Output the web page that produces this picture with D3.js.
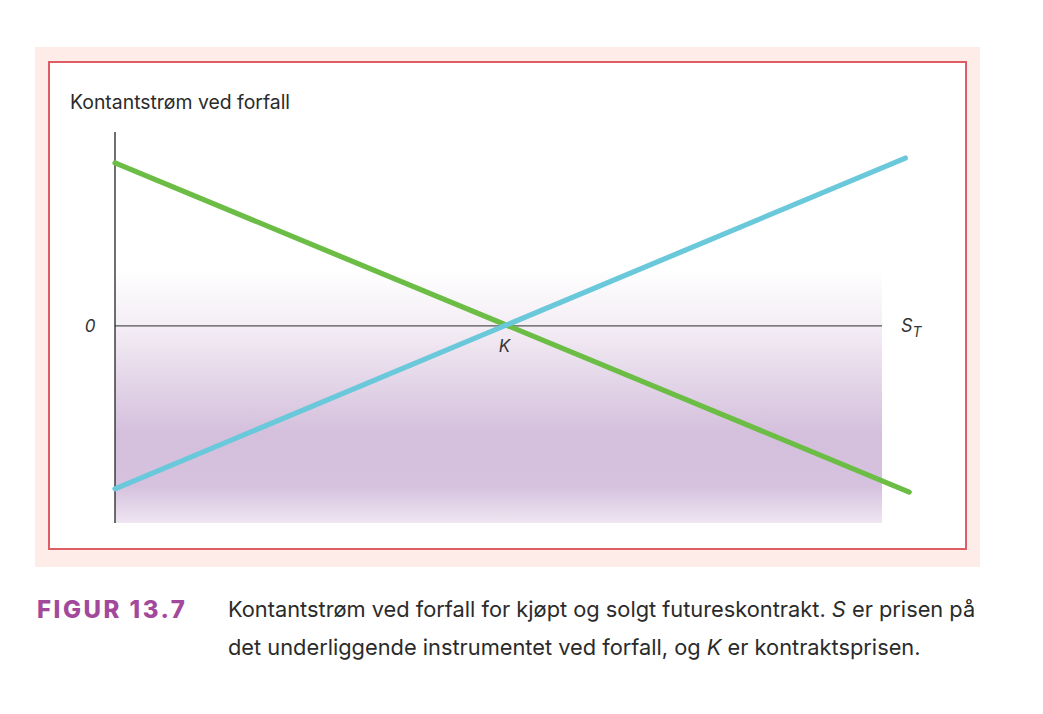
<!DOCTYPE html>
<html>
<head>
<meta charset="utf-8">
<script src="https://cdn.jsdelivr.net/npm/d3@7"></script>
<style>
  html, body { margin: 0; padding: 0; background: #ffffff; }
  svg { display: block; }
</style>
</head>
<body>
<svg id="chart" width="1043" height="714"></svg>
<script>
// ---- Data ----
const strikeK = 1;                      // contract price K
const xDomain = [0, 1.97];              // S_T axis extent
const yDomain = [-1.21, 1.19];          // cash flow axis extent
const longFutures  = [[0, -1], [2.03, 1.03]];   // bought futures: S_T - K
const shortFutures = [[0, 1],  [2.04, -1.02]];  // sold futures: K - S_T
const axisTitle = "Kontantstrøm ved forfall";
const zeroLabel = "0";
const kLabel = "K";
const figureLabel = "FIGUR 13.7";
const captionLines = [
  [{t: "Kontantstrøm ved forfall for kjøpt og solgt futureskontrakt. "}, {t: "S", i: true}, {t: " er prisen på"}],
  [{t: "det underliggende instrumentet ved forfall, og "}, {t: "K", i: true}, {t: " er kontraktsprisen."}]
];

// ---- Layout ----
const svg = d3.select("#chart");
const x0 = 115, x1 = 882;
const x = d3.scaleLinear().domain(xDomain).range([x0, x1]);
const y = d3.scaleLinear().domain(yDomain).range([523, 132]);

// panel
svg.append("rect").attr("x", 35).attr("y", 47).attr("width", 945).attr("height", 520).attr("fill", "#fdece8");
svg.append("rect").attr("x", 49).attr("y", 62).attr("width", 917).attr("height", 487)
  .attr("fill", "#ffffff").attr("stroke", "#de5d64").attr("stroke-width", 2);

// gradient
const defs = svg.append("defs");
const grad = defs.append("linearGradient").attr("id", "bg").attr("x1", 0).attr("y1", 0).attr("x2", 0).attr("y2", 1);
[[0, "#ffffff"], [0.22, "#f4eef5"], [0.65, "#d4bfdc"], [0.86, "#d6c2de"], [1, "#efe6f2"]]
  .forEach(s => grad.append("stop").attr("offset", s[0]).attr("stop-color", s[1]));
const gTop = y(0.35);
svg.append("rect").attr("x", x0).attr("y", gTop).attr("width", x(xDomain[1]) - x0).attr("height", y(yDomain[0]) - gTop)
  .attr("fill", "url(#bg)");

// axes
svg.append("line").attr("x1", x0).attr("x2", x(xDomain[1])).attr("y1", y(0)).attr("y2", y(0))
  .attr("stroke", "#555").attr("stroke-width", 1.2);
svg.append("line").attr("x1", x0).attr("x2", x0).attr("y1", y(yDomain[0])).attr("y2", y(yDomain[1]))
  .attr("stroke", "#222").attr("stroke-width", 1.3);

// lines
const line = d3.line().x(d => x(d[0])).y(d => y(d[1]));
svg.append("path").datum(shortFutures).attr("d", line).attr("fill", "none")
  .attr("stroke", "#6cbd45").attr("stroke-width", 5.2).attr("stroke-linecap", "round");
svg.append("path").datum(longFutures).attr("d", line).attr("fill", "none")
  .attr("stroke", "#6ac8db").attr("stroke-width", 5.2).attr("stroke-linecap", "round");

// labels
const font = "Inter, 'Open Sans', 'DejaVu Sans', sans-serif";
svg.append("text").attr("x", 70).attr("y", 109).attr("font-family", font).attr("font-size", 19.4)
  .attr("fill", "#2b2b2b").text(axisTitle);
svg.append("text").attr("x", 90).attr("y", y(0) + 6).attr("text-anchor", "middle").attr("font-family", font)
  .attr("font-style", "italic").attr("font-size", 17).attr("fill", "#333").text(zeroLabel);
svg.append("text").attr("x", x(strikeK)).attr("y", y(0) + 26).attr("text-anchor", "middle").attr("font-family", font)
  .attr("font-style", "italic").attr("font-size", 17).attr("fill", "#333").text(kLabel);
const st = svg.append("text").attr("x", 901).attr("y", y(0) + 6).attr("font-family", font)
  .attr("font-style", "italic").attr("font-size", 18).attr("fill", "#333");
st.append("tspan").text("S");
st.append("tspan").attr("dy", 5).attr("font-size", 14).text("T");

// caption
svg.append("text").attr("x", 37).attr("y", 618).attr("font-family", font).attr("font-weight", 800)
  .attr("font-size", 24).attr("letter-spacing", 2.5).attr("fill", "#a3499b").text(figureLabel);
captionLines.forEach((parts, i) => {
  const t = svg.append("text").attr("x", 228).attr("y", 617 + i * 38).attr("font-family", font)
    .attr("font-size", 21.8).attr("fill", "#2b2b2b");
  parts.forEach(p => t.append("tspan").attr("font-style", p.i ? "italic" : "normal").text(p.t));
});
</script>
</body>
</html>
